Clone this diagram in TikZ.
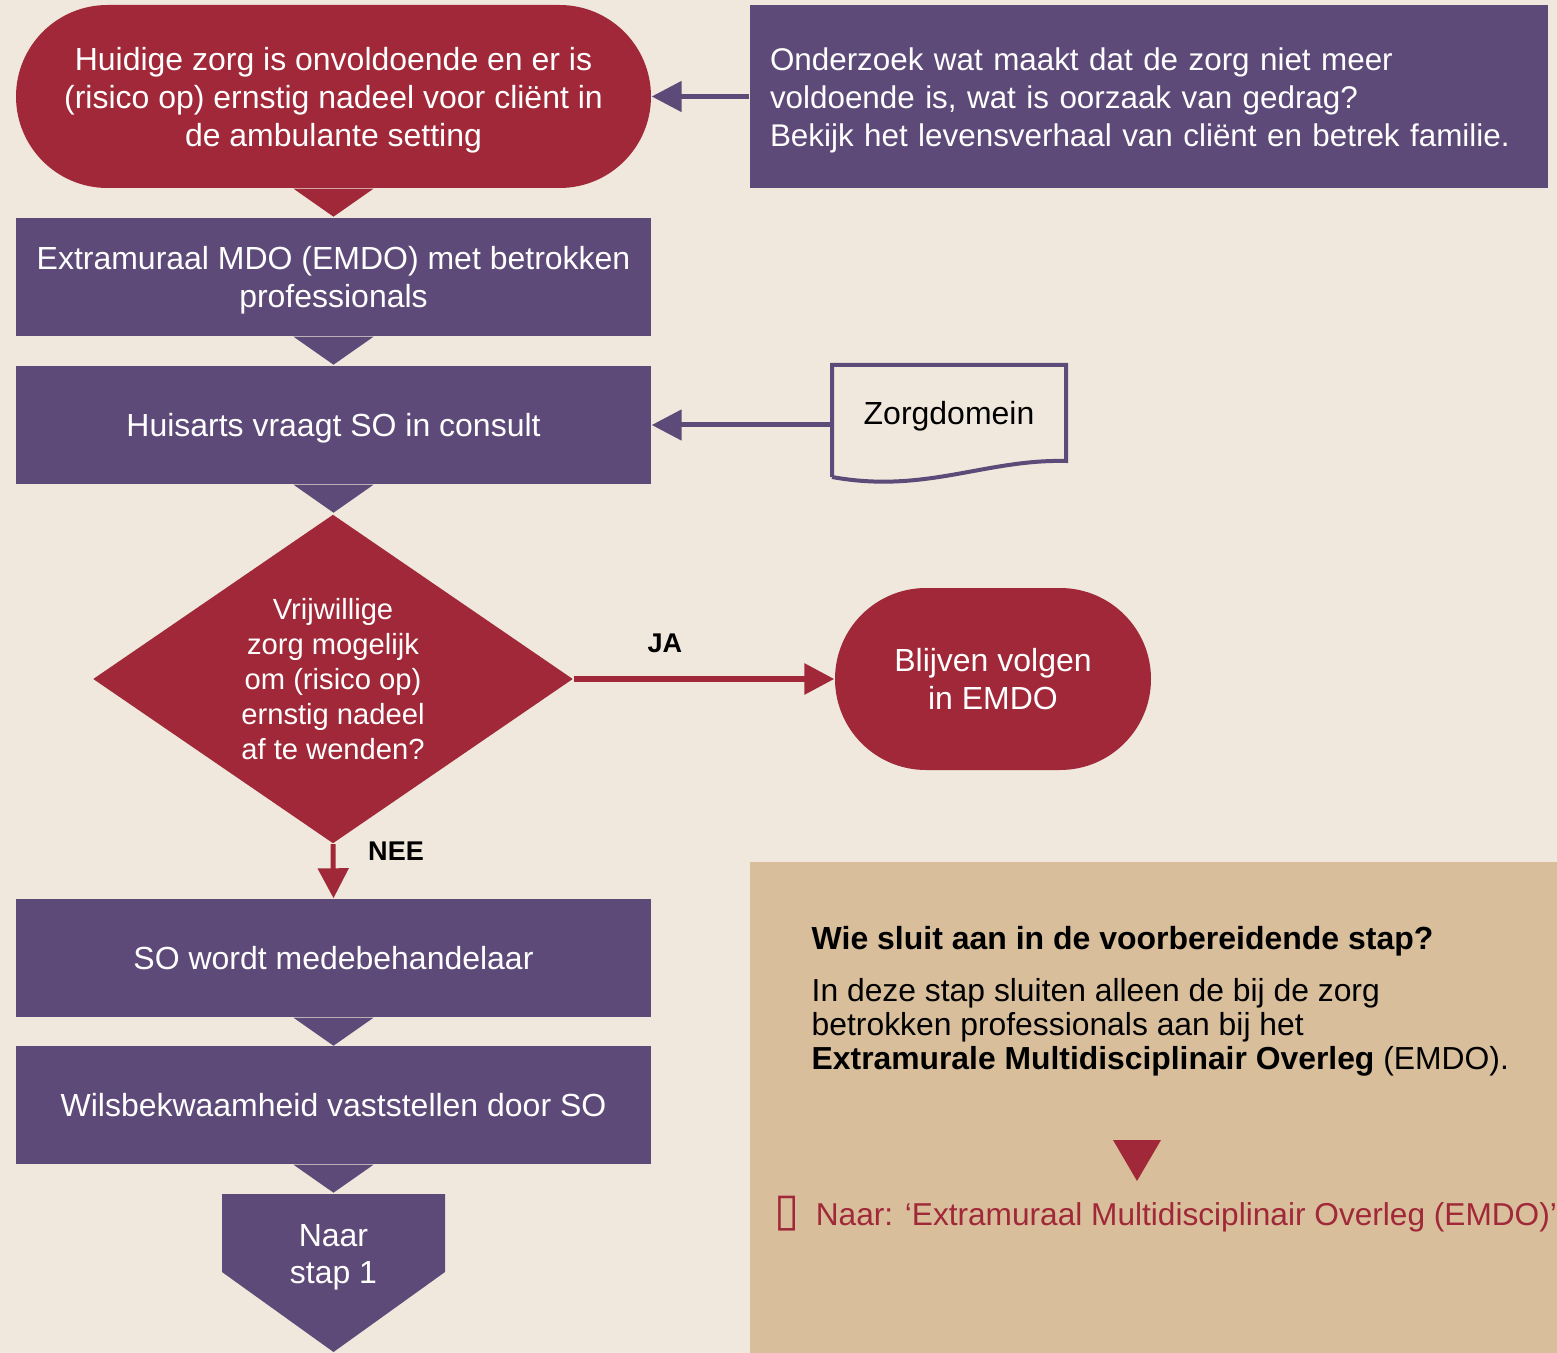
\documentclass[tikz,border=0pt]{standalone}
\usepackage{fontspec}
\setmainfont{Liberation Sans}
\newfontfamily\symfont{DejaVu Sans}
\usetikzlibrary{shapes.geometric,shapes.misc,arrows.meta}
\definecolor{achtergrond}{RGB}{240,232,220}
\definecolor{paars}{RGB}{94,74,120}
\definecolor{rood}{RGB}{160,40,56}
\definecolor{zand}{RGB}{216,190,154}

\begin{document}
\begin{tikzpicture}[x=0.1mm,y=-0.1mm,
	every node/.style={font=\fontsize{9.1}{10.8}\selectfont},
	blok/.style={rectangle,fill=paars,text=white,minimum width=63.5mm,minimum height=11.8mm,align=center,inner sep=0pt,text depth=0pt},
	rond/.style={rounded rectangle,fill=rood,text=white,align=center,inner sep=0pt,text depth=0pt},
	pijl/.style={line width=0.5mm,-{Triangle[length=3mm,width=3mm]}},
	etiket/.style={font=\bfseries\fontsize{7.7}{9}\selectfont,inner sep=0pt,text=black}]
		\useasboundingbox (0,0) rectangle (1557,1353);
		\fill[achtergrond] (0,0) rectangle (1557,1353);
		\fill[zand] (750,862) rectangle (1557,1353);

		\node[rond,minimum width=63.5mm,minimum height=18.3mm] (huidig) at (333.5,96.5) {Huidige zorg is onvoldoende en er is\\(risico op) ernstig nadeel voor cliënt in\\de ambulante setting};
		\node[blok,text depth={},minimum width=79.8mm,minimum height=18.3mm,align=left,text width=75.8mm,font=\fontsize{8.93}{10.8}\selectfont] (onderzoek) at (1149,96.5) {\rule{0pt}{8.8pt}Onderzoek wat maakt dat de zorg niet meer\\voldoende is, wat is oorzaak van gedrag?\\Bekijk het levensverhaal van cliënt en betrek familie.};
		\node[blok] (emdo) at (333.5,277) {Extramuraal MDO (EMDO) met betrokken\\professionals};
		\node[blok] (huisarts) at (333.5,425) {Huisarts vraagt SO in consult};
		\node[inner sep=0pt,minimum width=23.4mm,minimum height=9.5mm,text depth=0pt] (zorg) at (949,413) {Zorgdomein};
		\node[diamond,aspect=1.46,fill=rood,text=white,align=center,inner sep=0pt,minimum width=48mm,minimum height=32.9mm,font=\fontsize{8.3}{10}\selectfont] (vraag) at (333,679) {Vrijwillige\\zorg mogelijk\\om (risico op)\\ernstig nadeel\\af te wenden?};
		\node[rond,minimum width=31.6mm,minimum height=18.2mm] (blijven) at (993,679) {Blijven volgen\\in EMDO};
		\node[blok] (medebeh) at (333.5,958) {SO wordt medebehandelaar};
		\node[blok] (wils) at (333.5,1105) {Wilsbekwaamheid vaststellen door SO};
		\fill[paars] (222,1194) -- (445,1194) -- (445,1272) -- (333.5,1352) -- (222,1272) -- cycle;
		\node[text=white,align=center,inner sep=0pt,text depth=0pt] (stap) at (333.5,1254) {Naar\\stap 1};

		% document vorm
		\draw[paars,line width=0.4mm] (832,477) -- (832,365) -- (1066,365) -- (1066,461) .. controls (985,459) and (925,494) .. (832,477);

		% punten onder de blokken
		\fill[rood] ([xshift=-4mm]huidig.south) -- ([xshift=4mm]huidig.south) -- ([yshift=-2.8mm]huidig.south) -- cycle;
		\foreach \n in {emdo,huisarts,medebeh,wils}
			\fill[paars] ([xshift=-4mm]\n.south) -- ([xshift=4mm]\n.south) -- ([yshift=-2.8mm]\n.south) -- cycle;

		\draw[pijl,paars] (onderzoek.west) -- (huidig.east);
		\draw[pijl,paars] (zorg.west |- huisarts.east) -- (huisarts.east);
		\draw[pijl,rood,line width=0.6mm] (vraag.east) -- (blijven.west) node[etiket,pos=0.35,yshift=3.6mm] {JA};
		\draw[pijl,rood] (vraag.south) -- (medebeh.north) node[etiket,pos=0.125,xshift=6.3mm] {NEE};

		% uitleg rechtsonder
		\node[anchor=west,inner sep=0pt,font=\bfseries\fontsize{9.1}{10.8}\selectfont] (kop) at (811,941) {Wie sluit aan in de voorbereidende stap?};
		\node[anchor=west,inner sep=0pt,align=left,font=\fontsize{9.06}{9.7}\selectfont] (uitleg) at (811,1027) {In deze stap sluiten alleen de bij de zorg\\betrokken professionals aan bij het\\\textbf{Extramurale Multidisciplinair Overleg} (EMDO).};
		\fill[rood] (1113,1140) -- (1161,1140) -- (1137,1181) -- cycle;
		\node[anchor=west,inner sep=0pt,text=rood,font=\fontsize{9}{10.8}\selectfont] (naar) at (774,1214) {{\symfont\fontsize{13}{13}\selectfont ▯}\hspace{1.6mm}Naar: ‘Extramuraal Multidisciplinair Overleg (EMDO)’};
\end{tikzpicture}
\end{document}
